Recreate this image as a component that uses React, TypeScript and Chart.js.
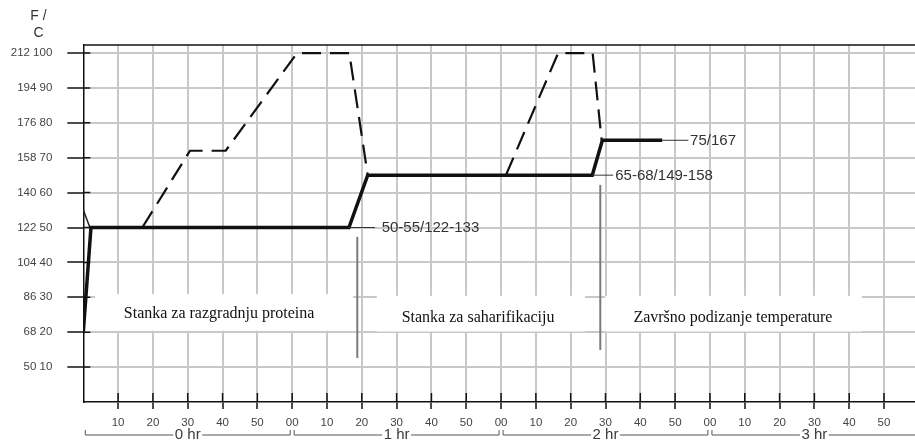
import React, { useEffect, useRef } from 'react';
import { Chart, registerables } from 'chart.js';

Chart.register(...registerables);

// ---- data (time in minutes, temperature in °C) ----
const mashTimes = [0, 2.2, 76.3, 81.7, 146.2, 149.1, 166.3];
const mashTemps = [20, 50, 50, 65, 65, 75, 75];
const decoction1Times = [16.95, 30.65, 40.9, 61.4, 76.4, 81.7];
const decoction1Temps = [50, 72, 72, 100, 100, 65];
const decoction2Times = [121.4, 136.4, 146.3, 148.9];
const decoction2Temps = [65, 100, 100, 75];
const leadTimes = [0, 1.9];
const leadTemps = [55, 50];

const yTickValues = [10, 20, 30, 40, 50, 60, 70, 80, 90, 100];
const xTickValues = [10, 20, 30, 40, 50, 60, 70, 80, 90, 100, 110, 120, 130, 140, 150, 160, 170, 180, 190, 200, 210, 220, 230];
const hourLabels = ['0 hr', '1 hr', '2 hr', '3 hr'];
const hourStarts = [0, 60, 120, 180];

const phaseLabels = ['Stanka za razgradnju proteina', 'Stanka za saharifikaciju', 'Završno podizanje temperature'];
const phaseStart = [3.4, 84.3, 149.9];
const phaseEnd = [77.5, 144.1, 223.6];
const phaseCenter = [39.0, 113.4, 186.6];
const phaseBoxLow = [20.4, 20.2, 20.2];
const phaseBoxHigh = [30.9, 30.4, 30.4];
const phaseTextTemp = [24.2, 23.0, 23.0];

const restLabels = ['50-55/122-133', '65-68/149-158', '75/167'];
const restTemps = [50, 65, 75];
const restLeaderStart = [76.3, 146.2, 166.3];
const restLeaderEnd = [83.8, 152.2, 173.8];
const restTextStart = [85.7, 152.8, 174.3];

const markerTimes = [78.7, 148.5];
const markerLow = [12.6, 14.9];
const markerHigh = [47.3, 62.2];

const SANS = '"Liberation Sans", Arial, Helvetica, sans-serif';
const SERIF = '"Liberation Serif", "Times New Roman", serif';

const toPoints = (xs: number[], ys: number[]) => xs.map((x, i) => ({ x, y: ys[i] }));

const overlayPlugin = {
  id: 'overlay',
  beforeDatasetsDraw(chart: any) {
    const { ctx, chartArea } = chart;
    const x = chart.scales.x;
    const y = chart.scales.y;
    ctx.save();
    // phase boxes
    ctx.fillStyle = '#ffffff';
    phaseLabels.forEach((_, i) => {
      const x0 = x.getPixelForValue(phaseStart[i]);
      const x1 = x.getPixelForValue(phaseEnd[i]);
      const y0 = y.getPixelForValue(phaseBoxHigh[i]);
      const y1 = y.getPixelForValue(phaseBoxLow[i]);
      ctx.fillRect(x0, y0, x1 - x0, y1 - y0);
    });
    ctx.fillStyle = '#111';
    ctx.font = `16px ${SERIF}`;
    ctx.textAlign = 'center';
    ctx.textBaseline = 'alphabetic';
    phaseLabels.forEach((label, i) => {
      ctx.fillText(label, x.getPixelForValue(phaseCenter[i]), y.getPixelForValue(phaseTextTemp[i]));
    });
    // inner tick marks
    ctx.strokeStyle = '#111';
    ctx.lineWidth = 1.5;
    ctx.beginPath();
    yTickValues.forEach((v) => {
      const py = y.getPixelForValue(v);
      ctx.moveTo(chartArea.left, py);
      ctx.lineTo(chartArea.left + 7, py);
    });
    xTickValues.forEach((v) => {
      const px = x.getPixelForValue(v);
      ctx.moveTo(px, chartArea.bottom);
      ctx.lineTo(px, chartArea.bottom - 9);
    });
    ctx.stroke();
    // top border
    ctx.beginPath();
    ctx.moveTo(chartArea.left, chartArea.top);
    ctx.lineTo(chartArea.right, chartArea.top);
    ctx.stroke();
    ctx.restore();
  },
  afterDatasetsDraw(chart: any) {
    const { ctx, chartArea } = chart;
    const x = chart.scales.x;
    const y = chart.scales.y;
    ctx.save();
    // grey phase markers
    ctx.strokeStyle = '#7a7a7a';
    ctx.lineWidth = 2;
    markerTimes.forEach((t, i) => {
      const px = x.getPixelForValue(t);
      ctx.beginPath();
      ctx.moveTo(px, y.getPixelForValue(markerHigh[i]));
      ctx.lineTo(px, y.getPixelForValue(markerLow[i]));
      ctx.stroke();
    });
    // rest labels
    ctx.strokeStyle = '#333';
    ctx.lineWidth = 1;
    ctx.fillStyle = '#333';
    ctx.font = `15px ${SANS}`;
    ctx.textAlign = 'left';
    ctx.textBaseline = 'middle';
    restLabels.forEach((label, i) => {
      const py = y.getPixelForValue(restTemps[i]);
      ctx.beginPath();
      ctx.moveTo(x.getPixelForValue(restLeaderStart[i]), py);
      ctx.lineTo(x.getPixelForValue(restLeaderEnd[i]), py);
      ctx.stroke();
      ctx.fillText(label, x.getPixelForValue(restTextStart[i]), py + 0.5);
    });
    // hour labels under the axis
    const lineY = chartArea.bottom + 33;
    ctx.font = `15px ${SANS}`;
    ctx.textAlign = 'center';
    ctx.fillStyle = '#3a3a3a';
    ctx.strokeStyle = '#555';
    ctx.lineWidth = 1;
    hourLabels.forEach((label, i) => {
      const t0 = hourStarts[i];
      const xs = x.getPixelForValue(t0) + 2;
      const xe = x.getPixelForValue(t0 + 60) - 2;
      const xc = x.getPixelForValue(t0 + 30);
      const w = ctx.measureText(label).width;
      ctx.beginPath();
      ctx.moveTo(xs, lineY - 5);
      ctx.lineTo(xs, lineY);
      ctx.lineTo(xc - w / 2 - 1.5, lineY);
      ctx.moveTo(xc + w / 2 + 1.5, lineY);
      ctx.lineTo(xe, lineY);
      ctx.lineTo(xe, lineY - 5);
      ctx.stroke();
      ctx.fillText(label, xc, lineY - 0.5);
    });
    // axis unit
    ctx.font = `14px ${SANS}`;
    ctx.fillStyle = '#333';
    ctx.fillText('F /', 38.5, 16);
    ctx.fillText('C', 38.5, 33);
    ctx.restore();
  },
};

export default function App() {
  const canvasRef = useRef<HTMLCanvasElement | null>(null);

  useEffect(() => {
    const canvas = canvasRef.current;
    if (!canvas) return;
    const chart = new Chart(canvas, {
      type: 'line',
      data: {
        datasets: [
          {
            data: toPoints(mashTimes, mashTemps),
            borderColor: '#111',
            borderWidth: 3.5,
            borderJoinStyle: 'miter',
            pointRadius: 0,
            tension: 0,
            fill: false,
          },
          {
            data: toPoints(leadTimes, leadTemps),
            borderColor: '#222',
            borderWidth: 1.5,
            pointRadius: 0,
            tension: 0,
            fill: false,
          },
          {
            data: toPoints(decoction1Times, decoction1Temps),
            borderColor: '#111',
            borderWidth: 2.2,
            borderDash: [19, 9],
            pointRadius: 0,
            tension: 0,
            fill: false,
          },
          {
            data: toPoints(decoction2Times, decoction2Temps),
            borderColor: '#111',
            borderWidth: 2.2,
            borderDash: [19, 9],
            pointRadius: 0,
            tension: 0,
            fill: false,
          },
        ],
      } as any,
      options: {
        responsive: false,
        animation: false,
        devicePixelRatio: 1,
        layout: { padding: { top: 45, left: 0, right: 0, bottom: 0 } },
        plugins: { legend: { display: false }, tooltip: { enabled: false } },
        scales: {
          x: {
            type: 'linear',
            min: 0,
            max: 238.9,
            afterBuildTicks: (s: any) => {
              s.ticks = xTickValues.map((v) => ({ value: v }));
            },
            afterFit: (s: any) => {
              s.height = 42;
            },
            grid: { color: '#c8c8c8', lineWidth: 2, tickColor: '#111', tickWidth: 1.5, tickLength: 7 },
            border: { color: '#111', width: 1.5 },
            ticks: {
              autoSkip: false,
              maxRotation: 0,
              padding: 7,
              color: '#444',
              font: { family: SANS, size: 11.5 },
              callback: (v: any) => {
                const n = Number(v) % 60;
                return n === 0 ? '00' : String(n);
              },
            },
          },
          y: {
            type: 'linear',
            min: 0,
            max: 102.3,
            afterBuildTicks: (s: any) => {
              s.ticks = yTickValues.map((v) => ({ value: v }));
            },
            afterFit: (s: any) => {
              s.width = 83.3;
            },
            grid: { color: '#c8c8c8', lineWidth: 2, tickColor: '#111', tickWidth: 1.5, tickLength: 16 },
            border: { color: '#111', width: 1.5 },
            ticks: {
              padding: 15,
              color: '#444',
              font: { family: SANS, size: 11.5 },
              callback: (v: any) => `${Math.round(Number(v) * 1.8 + 32)} ${v}`,
            },
          },
        },
      } as any,
      plugins: [overlayPlugin],
    });
    return () => chart.destroy();
  }, []);

  return (
    <div style={{ position: 'fixed', left: 0, top: 0, width: 915, height: 444, background: '#fff' }}>
      <canvas ref={canvasRef} width={915} height={444} style={{ display: 'block', width: 915, height: 444 }} />
    </div>
  );
}
